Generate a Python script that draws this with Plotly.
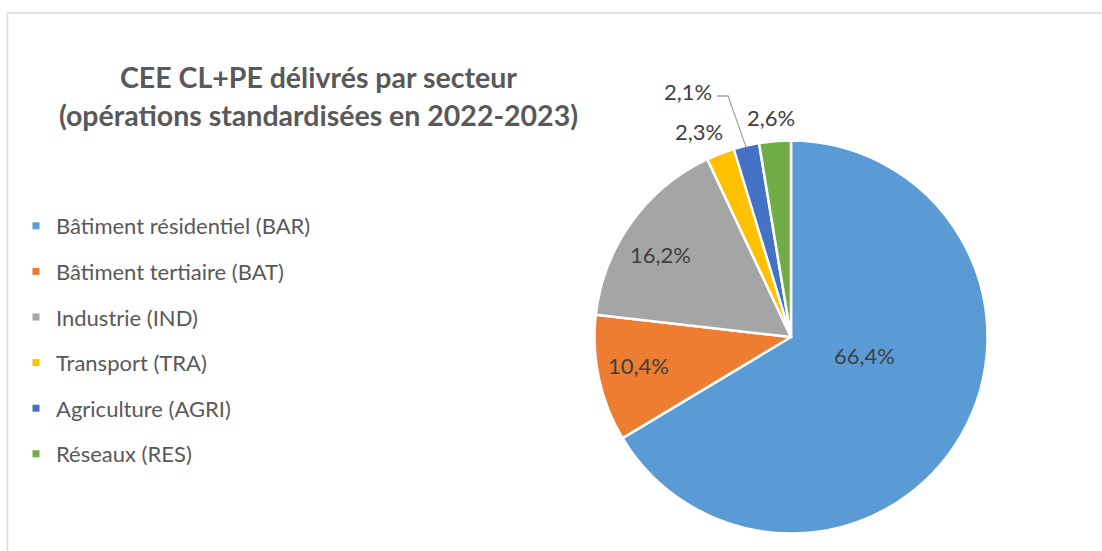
import math
import plotly.graph_objects as go

# ---- data ----
categories = ["Bâtiment résidentiel (BAR)", "Bâtiment tertiaire (BAT)", "Industrie (IND)",
              "Transport (TRA)", "Agriculture (AGRI)", "Réseaux (RES)"]
values = [66.4, 10.4, 16.2, 2.3, 2.1, 2.6]
colors = ["#5B9BD5", "#ED7D31", "#A5A5A5", "#FFC000", "#4472C4", "#70AD47"]
title_lines = ["CEE CL+PE délivrés par secteur", "(opérations standardisées en 2022-2023)"]

# ---- layout constants (pixels) ----
W, H = 1102, 551
CX, CY, R = 791, 337, 196.5
label_px = [(864, 355), (638, 365), (660, 255), (699, 131), (688, 92), (771, 117)]

def px(x):
    return x / W

def py(y):
    return 1 - y / H

def fmt(v):
    return f"{v:.1f}".replace(".", ",") + "%"

fig = go.Figure()

fig.add_trace(go.Pie(
    labels=categories, values=values, sort=False, direction="clockwise", rotation=0,
    marker=dict(colors=colors, line=dict(color="white", width=2.5)),
    textinfo="none", hoverinfo="label+percent", showlegend=False,
    domain=dict(x=[px(CX - R), px(CX + R)], y=[py(CY + R), py(CY - R)]),
))

# legend entries
for cat, col in zip(categories, colors):
    fig.add_trace(go.Scatter(
        x=[None], y=[None], mode="markers", name=cat, legendgroup=cat,
        marker=dict(symbol="square", size=7, color=col),
    ))

annotations = []
for v, (lx, ly) in zip(values, label_px):
    annotations.append(dict(
        x=px(lx), y=py(ly), xref="paper", yref="paper", text=fmt(v), showarrow=False,
        xanchor="center", yanchor="middle",
        font=dict(family="Lato", size=22, color="#404040"),
    ))

for i, (t, ty) in enumerate(zip(title_lines, [77, 115])):
    annotations.append(dict(
        x=px(318), y=py(ty), xref="paper", yref="paper", text=f"<b>{t}</b>", showarrow=False,
        xanchor="center", yanchor="middle",
        font=dict(family="Lato", size=28.5, color="#595959"),
    ))

# leader line for the AGRI label, ending on the slice edge at its mid-angle
cum_before = sum(values[:4])
mid_frac = (cum_before + values[4] / 2) / sum(values)
ang = 2 * math.pi * mid_frac
ex, ey = CX + R * math.sin(ang), CY - R * math.cos(ang)
leader = f"M {px(717)} {py(96)} L {px(728)} {py(96)} L {px(ex)} {py(ey + 2)}"

shapes = [
    dict(type="path", xref="paper", yref="paper", path=leader,
         line=dict(color="#A6A6A6", width=1.3)),
    dict(type="line", xref="paper", yref="paper", x0=px(7.5), x1=1.01, y0=py(13), y1=py(13),
         line=dict(color="#D9D9D9", width=1.5)),
    dict(type="line", xref="paper", yref="paper", x0=px(7.5), x1=px(7.5), y0=py(13), y1=-0.01,
         line=dict(color="#D9D9D9", width=1.5)),
]

fig.update_layout(
    width=W, height=H,
    margin=dict(l=0, r=0, t=0, b=0),
    paper_bgcolor="white", plot_bgcolor="white",
    xaxis=dict(visible=False), yaxis=dict(visible=False),
    showlegend=True,
    legend=dict(x=px(16), y=py(205), xanchor="left", yanchor="top",
                font=dict(family="Lato", size=22, color="#595959"),
                tracegroupgap=14, bgcolor="rgba(0,0,0,0)"),
    annotations=annotations, shapes=shapes,
)

fig.write_html("out.html", config={"displayModeBar": False},
               post_script="document.body.style.margin='0';document.body.style.overflow='hidden';")
